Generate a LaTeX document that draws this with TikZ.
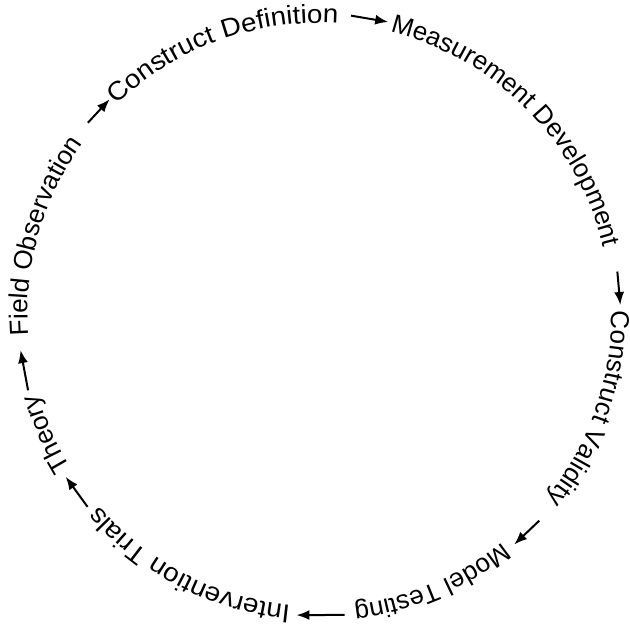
\documentclass[tikz,border=0pt]{standalone}
\usepackage{fontspec}
\setmainfont{Liberation Sans}
\newfontfamily\cyclewide[FakeStretch=1.07]{Liberation Sans}
\usepackage{tikz}
\usetikzlibrary{arrows.meta,decorations.text}
\newcommand{\cyclefont}{\fontsize{26bp}{31bp}\selectfont}
\newcommand{\cyclewidefont}{\cyclewide\fontsize{26bp}{31bp}\selectfont}
\tikzset{
  cycletext/.style={decorate, decoration={text along path, text align=left, text={|\cyclefont|#1}}},
  cyclewidetext/.style={decorate, decoration={text along path, text align=left, text={|\cyclewidefont|#1}}},
  arrow/.style={-{Latex[length=13bp,width=10bp]}, line width=2bp, draw=black}
}

\begin{document}
\begin{tikzpicture}[x=1bp, y=1bp]
  \useasboundingbox (-319.5,-313) rectangle (310.5,315);

  % labels, clockwise round the circle
  \path[cyclewidetext={Construct Definition}] (134:292) arc[start angle=134, end angle=60, radius=292];
  \path[cycletext={Measurement Development}] (76:292) arc[start angle=76, end angle=-20, radius=292];
  \path[cycletext={Construct Validity}] (0.8:292) arc[start angle=0.8, end angle=-70, radius=292];
  \path[cycletext={Model Testing}] (-51.2:292) arc[start angle=-51.2, end angle=-110, radius=292];
  \path[cyclewidetext={Intervention Trials}] (-95.7:292) arc[start angle=-95.7, end angle=-170, radius=292];
  \path[cycletext={Theory}] (-148.5:292) arc[start angle=-148.5, end angle=-200, radius=292];
  \path[cycletext={Field Observation}] (184:292) arc[start angle=184, end angle=110, radius=292];

  % arrow ends
  \coordinate (defA) at (84:301);
  \coordinate (defB) at (76.8:301);
  \coordinate (devA) at (8.3:301);
  \coordinate (devB) at (1.9:301);
  \coordinate (valA) at (-43.1:301);
  \coordinate (valB) at (-49.7:301);
  \coordinate (modA) at (-85.2:301);
  \coordinate (modB) at (-94.4:301);
  \coordinate (intA) at (-140.4:301);
  \coordinate (intB) at (-147.5:301);
  \coordinate (theA) at (-165.5:301);
  \coordinate (theB) at (-173.3:301);
  \coordinate (fldA) at (140.3:301);
  \coordinate (fldB) at (134.2:301);

  \draw[arrow] (defA) -- (defB);
  \draw[arrow] (devA) -- (devB);
  \draw[arrow] (valA) -- (valB);
  \draw[arrow] (modA) -- (modB);
  \draw[arrow] (intA) -- (intB);
  \draw[arrow] (theA) -- (theB);
  \draw[arrow] (fldA) -- (fldB);
\end{tikzpicture}
\end{document}
